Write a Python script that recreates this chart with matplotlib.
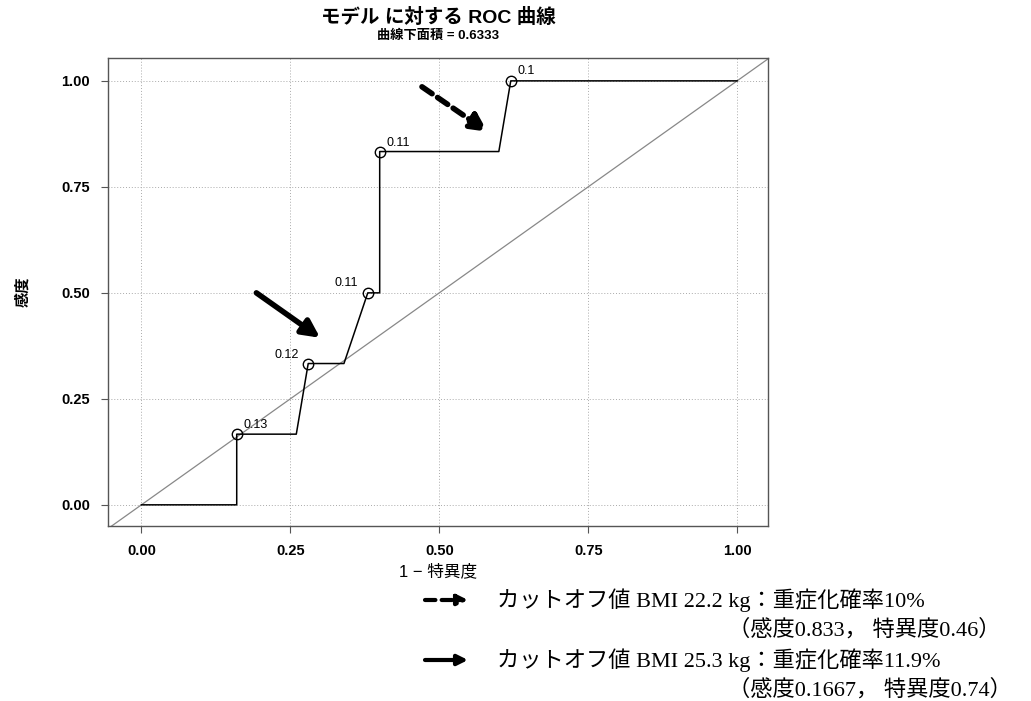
import matplotlib
matplotlib.use("Agg")
import matplotlib.pyplot as plt

plt.rcParams['font.family'] = ['Liberation Sans', 'Noto Sans CJK JP']

# ROC curve vertices (1 - specificity, sensitivity)
fpr = [0.0, 0.16, 0.16, 0.26, 0.28, 0.34, 0.38, 0.40, 0.40, 0.60, 0.62, 1.0]
tpr = [0.0, 0.0, 0.1667, 0.1667, 0.3333, 0.3333, 0.5, 0.5, 0.8333, 0.8333, 1.0, 1.0]

# labelled cut-off points (predicted probability)
cut_fpr = [0.16, 0.28, 0.38, 0.40, 0.62]
cut_tpr = [0.1667, 0.3333, 0.5, 0.8333, 1.0]
cut_labels = ["0.13", "0.12", "0.11", "0.11", "0.1"]
label_offsets = [(5, 2), (-7, 2), (-7, 3), (5, 2), (5, 3)]
label_ha = ["left", "right", "right", "left", "left"]

ticks = [0.0, 0.25, 0.50, 0.75, 1.0]
tick_labels = ["0.00", "0.25", "0.50", "0.75", "1.00"]

auc = 0.6333

fig = plt.figure(figsize=(10.31, 7.01), dpi=100)
ax = fig.add_axes([0.1048, 0.2496, 0.6402, 0.6677])

ax.set_xlim(-0.056, 1.052)
ax.set_ylim(-0.05, 1.054)

# chance line
ax.axline((0, 0), (1, 1), color="#888888", lw=0.9, zorder=2)

ax.plot(fpr, tpr, color="black", lw=1.1, zorder=3)
ax.plot(cut_fpr, cut_tpr, linestyle="none", marker="o", markersize=7.5,
        markerfacecolor="none", markeredgecolor="black", markeredgewidth=1.0, zorder=4)
for x, y, lab, off, ha in zip(cut_fpr, cut_tpr, cut_labels, label_offsets, label_ha):
    ax.annotate(lab, (x, y), xytext=off, textcoords="offset points",
                ha=ha, va="bottom", fontsize=9)

ax.set_xticks(ticks)
ax.set_xticklabels(tick_labels, fontsize=10.5, fontweight="bold")
ax.set_yticks(ticks)
ax.set_yticklabels(tick_labels, fontsize=10.5, fontweight="bold")
ax.tick_params(direction="out", length=5, width=0.8, color="#555555", pad=8)
ax.grid(True, linestyle=(0, (1, 2)), color="#aaaaaa", lw=0.7)
ax.set_axisbelow(True)
for s in ax.spines.values():
    s.set_color("#555555")
    s.set_linewidth(1.0)

ax.set_xlabel("1 − 特異度", fontsize=12, labelpad=4)
ax.set_ylabel("感度", fontsize=11, fontweight="bold", labelpad=22)

ax.text(0.5, 1.066, "モデル に対する ROC 曲線", transform=ax.transAxes,
        ha="center", va="bottom", fontsize=14, fontweight="bold")
ax.text(0.5, 1.034, f"曲線下面積 = {auc}", transform=ax.transAxes,
        ha="center", va="bottom", fontsize=9.5, fontweight="bold")

# arrows marking the two cut-off points on the curve
ax.annotate("", xy=(0.581, 0.880), xytext=(0.471, 0.986),
            arrowprops=dict(arrowstyle="-|>", lw=4, linestyle=(0, (2.2, 1.2)),
                            mutation_scale=26, color="black", shrinkA=0, shrinkB=0))
ax.annotate("", xy=(0.300, 0.394), xytext=(0.193, 0.500),
            arrowprops=dict(arrowstyle="-|>", lw=4, mutation_scale=26,
                            color="black", shrinkA=0, shrinkB=0))

# explanatory notes below the chart
H = 701
serif = ['Liberation Serif', 'Noto Sans CJK JP']
fig.add_artist(matplotlib.patches.FancyArrowPatch(
    (425, H - 600), (468, H - 600), transform=None, arrowstyle="-|>",
    mutation_scale=15, lw=3, linestyle=(0, (2.5, 1.5)), color="black",
    shrinkA=0, shrinkB=0))
fig.add_artist(matplotlib.patches.FancyArrowPatch(
    (425, H - 660), (468, H - 660), transform=None, arrowstyle="-|>",
    mutation_scale=15, lw=3, color="black", shrinkA=0, shrinkB=0))

notes = [
    (497, 600, "カットオフ値 BMI 22.2 kg：重症化確率10%"),
    (728, 630, "（感度0.833， 特異度0.46）"),
    (497, 660, "カットオフ値 BMI 25.3 kg：重症化確率11.9%"),
    (728, 690, "（感度0.1667， 特異度0.74）"),
]
for x, y, t in notes:
    fig.text(x / 1031, 1 - y / H, t, ha="left", va="center", fontsize=16, family=serif)

fig.savefig("out.png", dpi=100)
